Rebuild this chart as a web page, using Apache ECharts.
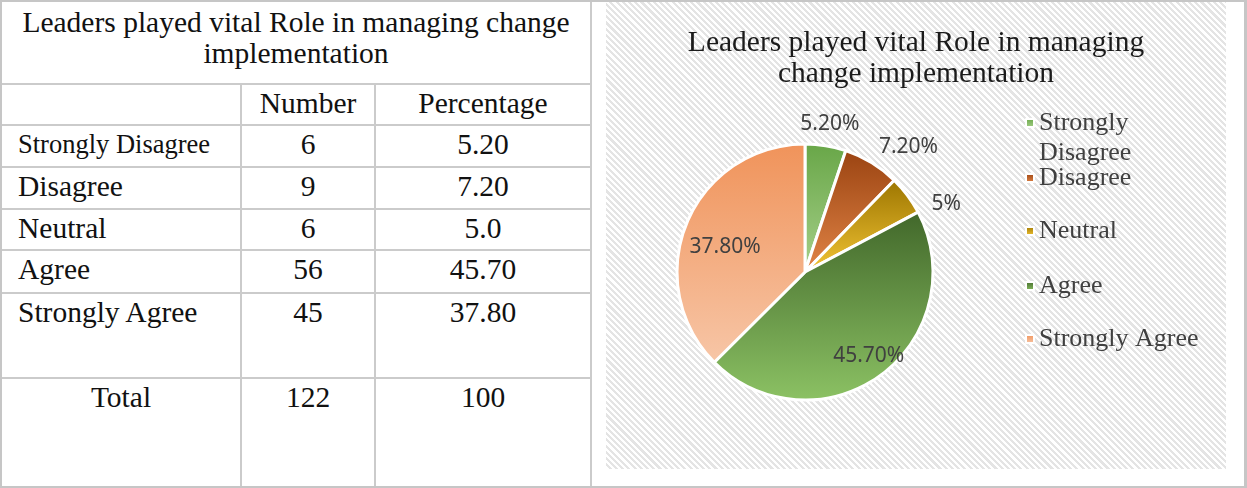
<!DOCTYPE html>
<html>
<head>
<meta charset="utf-8">
<script src="https://cdn.jsdelivr.net/npm/echarts@6/dist/echarts.min.js"></script>
<style>
  html, body { margin: 0; padding: 0; background: #fff; }
  #page {
    position: relative; width: 1247px; height: 488px; overflow: hidden;
    font-family: "Liberation Serif", "DejaVu Serif", serif; color: #111;
  }
  #frame {
    position: absolute; left: 0; top: 0; width: 1247px; height: 488px;
    box-sizing: border-box; border: 2px solid #c6c6c6; border-right-width: 3px;
  }
  #tbl {
    position: absolute; left: 0; top: 0; width: 590px; height: 488px;
    border-collapse: collapse; table-layout: fixed;
  }
  #tbl td {
    border: 2px solid #cbcbcb; vertical-align: top; padding: 2px 0 0 0;
    line-height: 32px; font-size: 29.5px; text-align: center; overflow: hidden; white-space: nowrap;
  }
  #tbl td.name { text-align: left; padding-left: 16px; }
  #tbl td.title { line-height: 31px; font-size: 29.5px; padding: 5px 0 0 0; }
  #chart {
    position: absolute; left: 606px; top: 2px; width: 620px; height: 467px;
    background: repeating-linear-gradient(45deg, #ffffff 0 2.2px, #e4e4e4 2.2px 4.4px);
  }
</style>
</head>
<body>
<div id="page">
  <table id="tbl">
    <colgroup><col style="width:240px"><col style="width:134px"><col style="width:216px"></colgroup>
    <tbody id="tbody"></tbody>
  </table>
  <div id="frame"></div>
  <div id="chart"></div>
</div>
<script>
const titleLine1 = "Leaders played vital Role in managing change"
const titleLine2 = "implementation"
const chartTitle = "Leaders played vital Role in managing\nchange implementation"
const columnHeaders = ["", "Number", "Percentage"]
const categories = ["Strongly Disagree", "Disagree", "Neutral", "Agree", "Strongly Agree"]
const counts = [6, 9, 6, 56, 45]
const percentText = ["5.20", "7.20", "5.0", "45.70", "37.80"]
const totalRow = ["Total", "122", "100"]
const sliceValues = [5.2, 7.2, 5, 45.7, 37.8]
const sliceLabels = ["5.20%", "7.20%", "5%", "45.70%", "37.80%"]

// table on the left
const rowHeights = [83, 41, 42, 42, 41, 43, 85, 111]
const tbody = document.getElementById("tbody")
function addRow(cells, height, classes, sizes) {
  const tr = document.createElement("tr")
  tr.style.height = height + "px"
  cells.forEach((text, i) => {
    const td = document.createElement("td")
    td.textContent = text
    if (classes && classes[i]) td.className = classes[i]
    if (sizes && sizes[i]) td.style.fontSize = sizes[i] + "px"
    tr.appendChild(td)
  })
  tbody.appendChild(tr)
}
const trTitle = document.createElement("tr")
trTitle.style.height = rowHeights[0] + "px"
const tdTitle = document.createElement("td")
tdTitle.colSpan = 3
tdTitle.className = "title"
tdTitle.append(titleLine1, document.createElement("br"), titleLine2)
trTitle.appendChild(tdTitle)
tbody.appendChild(trTitle)
addRow(columnHeaders, rowHeights[1])
categories.forEach((name, i) => {
  addRow([name, String(counts[i]), percentText[i]], rowHeights[i + 2], ["name"], [i === 0 ? 26.5 : 29.5])
})
addRow(totalRow, rowHeights[7])

// pie chart on the right
const gradients = [
  ["#68a647", "#a6d08a"],
  ["#9a4311", "#e28547"],
  ["#9c7500", "#f3c535"],
  ["#41672a", "#8cc264"],
  ["#f0935a", "#f7c6a7"]
]
const labelSetups = [
  { position: "outside", offset: [-32, -12] },
  { position: "outside", offset: [-3, -7] },
  { position: "outside", offset: [11, 15] },
  { position: "inside", offset: [24, 30] },
  { position: "inside", offset: [-18, 1] }
]
const legendCenters = [123, 178, 231, 286, 339]

const chart = echarts.init(document.getElementById("chart"), null, { renderer: "canvas" })

const legendRich = {
  t: { fontFamily: "Liberation Serif", fontSize: 26, color: "#404040", lineHeight: 30 }
}
const legends = categories.map((name, i) => ({
  data: [name],
  orient: "vertical",
  left: 419,
  top: i === 0 ? legendCenters[i] - 45 : legendCenters[i] - 15,
  padding: 0,
  itemWidth: 8,
  itemHeight: 8,
  icon: "rect",
  selectedMode: false,
  // the wrapped first entry keeps its marker level with the first line
  formatter: (n) => (n === "Strongly Disagree" ? "{t| }\n{t|Strongly}\n{t|Disagree}" : "{t|" + n + "}"),
  textStyle: { rich: legendRich }
}))

chart.setOption({
  animation: false,
  title: {
    text: chartTitle,
    left: "center",
    top: 21,
    textStyle: {
      fontFamily: "Liberation Serif", fontSize: 29.5, fontWeight: "normal",
      color: "#1b1b1b", lineHeight: 31
    }
  },
  legend: legends,
  series: [
    {
      type: "pie",
      center: [199, 270],
      radius: 128,
      startAngle: 90,
      clockwise: true,
      avoidLabelOverlap: false,
      labelLine: { show: false, length: 10, length2: 0 },
      itemStyle: { borderColor: "#ffffff", borderWidth: 3 },
      label: {
        fontFamily: "Noto Sans", fontSize: 21, color: "#404040"
      },
      data: categories.map((name, i) => ({
        name: name,
        value: sliceValues[i],
        itemStyle: {
          color: new echarts.graphic.LinearGradient(0, 0, 0, 1, [
            { offset: 0, color: gradients[i][0] },
            { offset: 1, color: gradients[i][1] }
          ])
        },
        label: {
          position: labelSetups[i].position,
          offset: labelSetups[i].offset,
          formatter: () => sliceLabels[i]
        }
      }))
    }
  ]
})
</script>
</body>
</html>
